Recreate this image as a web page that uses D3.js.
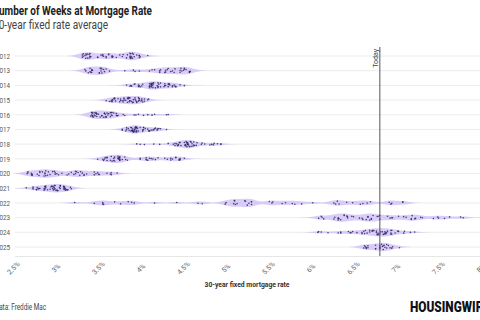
<!DOCTYPE html>
<html><head><meta charset="utf-8">
<script src="https://cdn.jsdelivr.net/npm/d3@7"></script>
<style>body{margin:0;background:#fff}svg{display:block;font-family:Roboto,"Noto Sans",sans-serif}</style>
</head><body><svg id="c" width="480" height="320"></svg>
<script>
// Freddie Mac PMMS weekly 30-year fixed rate, by year
const years = ["2012","2013","2014","2015","2016","2017","2018","2019","2020","2021","2022","2023","2024","2025"];
const r2012 = [3.91,3.89,3.88,3.98,3.87,3.87,3.87,3.95,3.90,3.88,3.92,4.08,3.99,3.98,3.98,3.88,3.90,3.88,3.84,3.83,3.79,3.78,3.75,3.67,3.71,3.66,3.66,3.62,3.56,3.53,3.49,3.55,3.59,3.62,3.66,3.59,3.55,3.49,3.40,3.40,3.36,3.39,3.37,3.41,3.39,3.40,3.35,3.34,3.31,3.32,3.32,3.31,3.37,3.35];
const r2013 = [3.34,3.40,3.38,3.42,3.42,3.53,3.53,3.56,3.51,3.52,3.63,3.54,3.57,3.54,3.43,3.41,3.40,3.35,3.42,3.51,3.59,3.81,3.91,3.98,3.93,4.46,4.29,4.51,4.37,4.31,4.39,4.40,4.58,4.51,4.57,4.57,4.50,4.57,4.32,4.22,4.23,4.28,4.13,4.10,4.16,4.35,4.22,4.29,4.46,4.47,4.48,4.53];
const r2014 = [4.46,4.51,4.41,4.39,4.32,4.23,4.28,4.33,4.37,4.28,4.37,4.32,4.40,4.41,4.34,4.27,4.33,4.29,4.21,4.20,4.14,4.12,4.14,4.20,4.17,4.14,4.12,4.15,4.13,4.12,4.14,4.12,4.10,4.10,4.10,4.10,4.12,4.23,4.20,4.19,4.12,3.97,3.92,3.98,4.02,4.01,3.99,3.97,3.89,3.93,3.88,3.83,3.87];
const r2015 = [3.73,3.66,3.63,3.66,3.59,3.69,3.76,3.80,3.75,3.86,3.78,3.69,3.70,3.66,3.67,3.65,3.68,3.80,3.85,3.84,3.87,3.87,4.04,4.00,4.02,4.08,4.04,4.09,3.98,3.98,3.91,3.93,3.94,3.84,3.89,3.90,3.91,3.86,3.85,3.82,3.76,3.79,3.80,3.87,3.98,3.97,3.95,3.93,3.95,3.97,4.01,4.01];
const r2016 = [3.97,3.92,3.81,3.79,3.72,3.65,3.65,3.62,3.64,3.68,3.73,3.71,3.71,3.59,3.58,3.59,3.66,3.61,3.57,3.58,3.64,3.66,3.60,3.54,3.56,3.48,3.41,3.42,3.45,3.48,3.43,3.45,3.43,3.43,3.46,3.44,3.50,3.48,3.42,3.42,3.47,3.52,3.47,3.54,3.57,3.94,4.03,4.08,4.13,4.16,4.30,4.32];
const r2017 = [4.20,4.12,4.09,4.19,4.19,4.17,4.15,4.16,4.10,4.21,4.30,4.23,4.14,4.10,4.08,3.97,4.03,4.02,4.05,4.02,3.95,3.95,3.94,3.89,3.91,3.90,3.88,4.03,4.03,3.96,3.92,3.93,3.90,3.89,3.86,3.82,3.78,3.78,3.83,3.83,3.85,3.91,3.88,3.92,3.94,3.90,3.95,3.92,3.90,3.94,3.93,3.94,3.94,3.99];
const r2018 = [3.95,3.99,4.04,4.15,4.22,4.32,4.38,4.40,4.43,4.46,4.44,4.45,4.44,4.40,4.42,4.47,4.58,4.55,4.55,4.61,4.66,4.56,4.54,4.62,4.57,4.55,4.52,4.53,4.52,4.54,4.59,4.59,4.53,4.51,4.52,4.54,4.60,4.65,4.72,4.71,4.90,4.85,4.86,4.83,4.94,4.94,4.81,4.75,4.63,4.62,4.55];
const r2019 = [4.51,4.45,4.45,4.46,4.46,4.41,4.37,4.35,4.35,4.41,4.31,4.28,4.06,4.08,4.12,4.17,4.20,4.14,4.10,4.07,4.06,3.99,3.99,3.82,3.84,3.73,3.75,3.81,3.75,3.75,3.60,3.60,3.55,3.58,3.49,3.56,3.73,3.64,3.65,3.57,3.60,3.69,3.75,3.78,3.69,3.75,3.66,3.68,3.68,3.73,3.74,3.74];
const r2020 = [3.72,3.64,3.65,3.60,3.51,3.45,3.47,3.49,3.45,3.29,3.36,3.65,3.50,3.33,3.31,3.33,3.23,3.23,3.26,3.28,3.24,3.15,3.18,3.21,3.13,3.07,3.03,2.98,3.01,2.99,2.88,2.96,2.99,2.91,2.93,2.86,2.87,2.90,2.88,2.87,2.81,2.80,2.81,2.78,2.84,2.72,2.72,2.71,2.71,2.67,2.66,2.67];
const r2021 = [2.65,2.79,2.77,2.73,2.73,2.73,2.81,2.97,3.02,3.05,3.09,3.17,3.18,3.13,3.04,2.97,2.98,2.96,2.94,3.00,2.95,2.99,2.96,2.93,3.02,2.98,2.90,2.88,2.80,2.78,2.77,2.87,2.86,2.87,2.87,2.86,2.88,3.01,2.99,3.05,3.09,3.14,3.09,2.98,3.10,3.10,3.11,3.10,3.12,3.05,3.11];
const r2022 = [3.22,3.45,3.56,3.55,3.55,3.69,3.92,3.89,3.76,3.85,4.16,4.42,4.67,4.72,5.00,5.11,5.10,5.27,5.30,5.25,5.10,5.09,5.23,5.78,5.81,5.70,5.30,5.51,5.54,5.30,4.99,5.22,5.13,5.55,5.66,5.89,6.02,6.29,6.70,6.66,6.92,6.94,7.08,6.95,7.08,6.61,6.58,6.49,6.33,6.31,6.27,6.42];
const r2023 = [6.48,6.33,6.15,6.13,6.09,6.12,6.32,6.50,6.65,6.73,6.60,6.42,6.32,6.32,6.28,6.27,6.39,6.43,6.43,6.35,6.39,6.57,6.79,6.71,6.69,6.67,6.71,6.81,6.96,6.78,6.81,6.90,6.93,7.09,7.23,7.18,7.12,7.18,7.19,7.31,7.49,7.57,7.63,7.79,7.76,7.50,7.44,7.29,7.22,7.03,6.95,6.67,6.61];
const r2024 = [6.62,6.66,6.60,6.69,6.63,6.64,6.77,6.90,6.94,6.94,6.88,6.74,6.87,6.79,6.82,6.88,7.10,7.17,7.22,7.09,7.02,6.94,7.03,6.99,6.95,6.87,6.86,6.95,6.89,6.77,6.78,6.73,6.47,6.49,6.46,6.35,6.35,6.20,6.09,6.08,6.12,6.32,6.44,6.54,6.72,6.79,6.78,6.84,6.81,6.69,6.60,6.72,6.85];
const r2025 = [6.91,6.93,7.04,6.96,6.95,6.89,6.87,6.85,6.76,6.63,6.65,6.67,6.67,6.65,6.64,6.62,6.83,6.81,6.81,6.76,6.76,6.81,6.86,6.89,6.85,6.84,6.81];
const rates = [r2012,r2013,r2014,r2015,r2016,r2017,r2018,r2019,r2020,r2021,r2022,r2023,r2024,r2025];
const xTicks = [2.5,3,3.5,4,4.5,5,5.5,6,6.5,7,7.5,8];
const xTickLabels = ["2.5%","3%","3.5%","4%","4.5%","5%","5.5%","6%","6.5%","7%","7.5%","8%"];
const todayRate = 6.81;

const svg = d3.select("#c");
const x = d3.scaleLinear().domain([2.5, 8]).range([13.5, 481]);
const y = d3.scalePoint().domain(years).range([56, 247]);

// titles
svg.append("text").attr("x", -8).attr("y", 15).attr("font-size", 13).attr("font-weight", 700)
  .attr("fill", "#222").attr("textLength", 160).attr("lengthAdjust", "spacingAndGlyphs")
  .text("Number of Weeks at Mortgage Rate");
svg.append("text").attr("x", -7).attr("y", 29).attr("font-size", 12).attr("fill", "#444")
  .attr("textLength", 115).attr("lengthAdjust", "spacingAndGlyphs")
  .text("30-year fixed rate average");

// gridlines
svg.append("g").selectAll("line").data(years).join("line")
  .attr("x1", 15).attr("x2", 480).attr("y1", d => y(d)).attr("y2", d => y(d))
  .attr("stroke", "#ececec").attr("stroke-width", 1);
svg.append("line").attr("x1", 15).attr("x2", 480).attr("y1", 256.5).attr("y2", 256.5)
  .attr("stroke", "#e6e6e6");

// y labels
svg.append("g").selectAll("text").data(years).join("text")
  .attr("x", 10).attr("y", d => y(d)).attr("dy", "0.35em").attr("text-anchor", "end")
  .attr("font-size", 8).attr("fill", "#555").attr("textLength", 14).attr("lengthAdjust", "spacingAndGlyphs")
  .text(d => d);

// violins
const bw = 0.07;
const kde = (vals, t) => d3.sum(vals, v => Math.exp(-0.5 * ((t - v) / bw) ** 2));
const maxHalf = 4.2;
const violinG = svg.append("g");
const dotG = svg.append("g");
years.forEach((yr, i) => {
  const vals = rates[i];
  const lo = d3.min(vals) - 0.25, hi = d3.max(vals) + 0.25;
  const grid = d3.range(lo, hi + 0.001, 0.01);
  const dens = grid.map(t => [t, kde(vals, t)]);
  const dmax = d3.max(dens, d => d[1]);
  const w = d => maxHalf * Math.pow(d / dmax, 0.8);
  const cy = y(yr);
  violinG.append("path").datum(dens)
    .attr("d", d3.area().x(d => x(d[0])).y0(d => cy - w(d[1])).y1(d => cy + w(d[1])).curve(d3.curveBasis))
    .attr("fill", "#cdbdf5").attr("fill-opacity", 0.75);
  const pattern = [-0.55, 0.35, 0.8, -0.15, 0.55, -0.85, 0.1, -0.4, 0.7, -0.7, 0.25];
  dotG.selectAll(null).data(vals).join("circle")
    .attr("cx", d => x(d))
    .attr("cy", (d, j) => cy + pattern[j % pattern.length] * w(kde(vals, d)) * 0.75)
    .attr("r", 0.8).attr("fill", "#2a2566").attr("fill-opacity", 0.85);
});

// today line
svg.append("line").attr("x1", x(todayRate)).attr("x2", x(todayRate)).attr("y1", 47).attr("y2", 256)
  .attr("stroke", "#555").attr("stroke-width", 1);
svg.append("text").attr("transform", `translate(${x(todayRate) - 2},49) rotate(-90)`)
  .attr("text-anchor", "end").attr("font-size", 7).attr("fill", "#444").text("Today");

// x tick labels
svg.append("g").selectAll("text").data(xTicks).join("text")
  .attr("transform", (d) => `translate(${x(d)},268) rotate(-45)`)
  .attr("text-anchor", "middle").attr("dy", "0.35em").attr("font-size", 7).attr("fill", "#666")
  .text((d, i) => xTickLabels[i]);

// x title
svg.append("text").attr("x", 247).attr("y", 287).attr("text-anchor", "middle")
  .attr("font-size", 7.5).attr("font-weight", 700).attr("fill", "#333")
  .attr("textLength", 85).attr("lengthAdjust", "spacingAndGlyphs")
  .text("30-year fixed mortgage rate");

// footer
svg.append("text").attr("x", -5).attr("y", 310).attr("font-size", 8.5).attr("fill", "#444")
  .attr("textLength", 51).attr("lengthAdjust", "spacingAndGlyphs").text("Data: Freddie Mac");
svg.append("text").attr("x", 410).attr("y", 312).attr("font-size", 14).attr("font-weight", 900)
  .attr("fill", "#111").attr("textLength", 80).attr("lengthAdjust", "spacingAndGlyphs").text("HOUSINGWIRE");
</script></body></html>
